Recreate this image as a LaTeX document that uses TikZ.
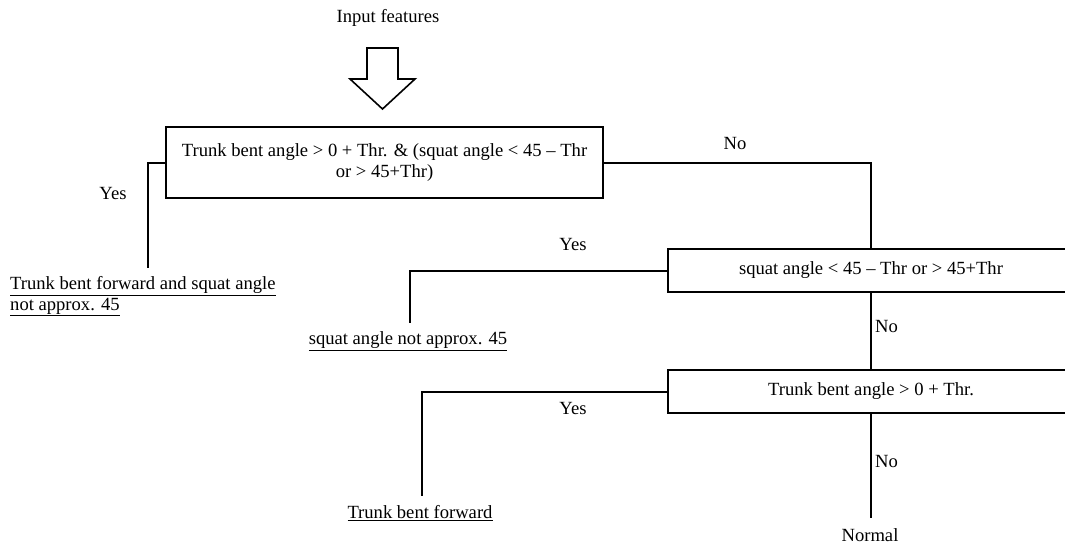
\documentclass[tikz,border=0pt]{standalone}
\usepackage{fontspec}
\setmainfont{Liberation Serif}
\begin{document}
\begin{tikzpicture}[x=1pt,y=-1pt,
  every node/.style={font=\fontsize{18.6}{21}\selectfont, inner sep=0pt},
  box/.style={draw, line width=2pt, align=center},
  conn/.style={line width=2pt}]
\useasboundingbox (0,0) rectangle (1065,544);
\clip (0,0) rectangle (1065,544);
\node (inp) at (388,18) {Input features};
\draw[line width=1.6pt, line join=miter] (367,48) -- (398,48) -- (398,79) -- (415,79) -- (382.5,109) -- (350,79) -- (367,79) -- cycle;
\node[box, minimum width=437pt, minimum height=71pt] (b1) at (384.5,162.5)
  {Trunk bent angle > 0 + Thr. \& (squat angle < 45 – Thr\\or > 45+Thr)};
\node[box, minimum width=406pt, minimum height=43pt] (b2) at (871,270.5)
  {squat angle < 45 – Thr or > 45+Thr};
\node[box, minimum width=406pt, minimum height=43pt] (b3) at (871,391.5)
  {Trunk bent angle > 0 + Thr.};
\node[anchor=north west, align=left] (l1) at (10,276)
  {\underline{Trunk bent forward and squat angle}\\\underline{not approx. 45}};
\node (l2) at (408,341) {\underline{squat angle not approx. 45}};
\node (l3) at (420,513) {\underline{Trunk bent forward}};
\node (l4) at (870,535) {Normal};
\coordinate (c1) at (148,268);
\coordinate (c2) at (410,323);
\coordinate (c3) at (422,496);
\coordinate (c4) at (871,518);
\draw[conn] (b1.west) -| (c1);
\draw[conn] (b1.east) -| (b2.north);
\draw[conn] (b2.west) -| (c2);
\draw[conn] (b2.south) -- (b3.north);
\draw[conn] (b3.west) -| (c3);
\draw[conn] (b3.south) -- (c4);
\node (y1) at (113,193) {Yes};
\node (n1) at (735,143) {No};
\node (y2) at (573,244) {Yes};
\node[anchor=west] (n2) at (875,326) {No};
\node (y3) at (573,408) {Yes};
\node[anchor=west] (n3) at (875,461) {No};
\end{tikzpicture}
\end{document}
